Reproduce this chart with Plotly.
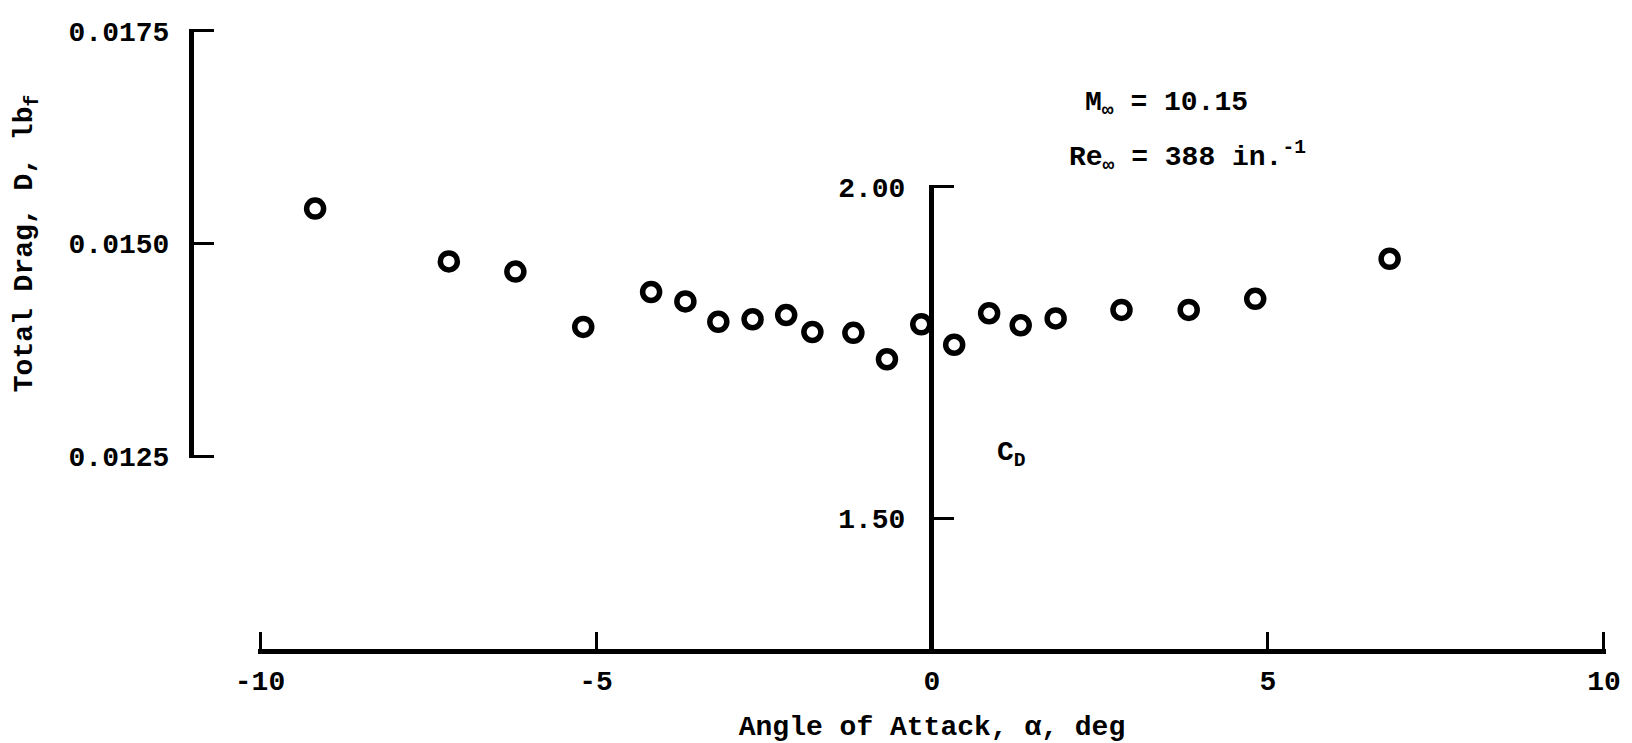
import plotly.graph_objects as go

# ---- data ----
alpha_deg = [-9.18, -7.19, -6.20, -5.19, -4.18, -3.67, -3.18, -2.67, -2.17, -1.78, -1.17,
             -0.67, -0.16, 0.33, 0.85, 1.32, 1.84, 2.82, 3.82, 4.81, 6.81]
total_drag_lbf = [0.01541, 0.01479, 0.01467, 0.01402, 0.01443, 0.01432, 0.01408, 0.01411,
                  0.01416, 0.01396, 0.01395, 0.01364, 0.01405, 0.01381, 0.01418, 0.01404,
                  0.01412, 0.01422, 0.01422, 0.01435, 0.01482]

x_ticks = [-10, -5, 0, 5, 10]
x_ticktext = ["-10", "-5", "0", "5", "10"]
drag_ticks = [0.0125, 0.0150, 0.0175]
drag_ticktext = ["0.0125", "0.0150", "0.0175"]
cd_ticks = [1.50, 2.00]
cd_ticktext = ["1.50", "2.00"]

W, H = 1632, 743
FONT = "Liberation Mono"
FS = 28


def px_x(p):
    return p / W


def px_y(p):
    return (H - p) / H


fig = go.Figure()
fig.add_trace(go.Scatter(
    x=alpha_deg, y=total_drag_lbf, mode="markers",
    marker=dict(symbol="circle-open", size=17, color="black", line=dict(width=5.5, color="black")),
    xaxis="x", yaxis="y", showlegend=False, cliponaxis=False,
))
# empty trace so the C_D axis subplot exists
fig.add_trace(go.Scatter(x=[], y=[], xaxis="x", yaxis="y2", showlegend=False, hoverinfo="skip"))

tickfont = dict(family=FONT, size=FS, color="black", weight="bold")
textfont = dict(family=FONT, size=FS, color="black", weight="bold")

fig.update_layout(
    width=W, height=H,
    margin=dict(l=0, r=0, t=0, b=0, pad=0),
    paper_bgcolor="white", plot_bgcolor="rgba(0,0,0,0)",
    xaxis=dict(
        domain=[px_x(250), px_x(1598)], range=[-10.03, 10.03],
        anchor="free", position=px_y(643),
        showline=True, linewidth=5, linecolor="black",
        ticks="inside", ticklen=17, tickwidth=3, tickcolor="black",
        tickvals=x_ticks, ticktext=x_ticktext, tickfont=tickfont,
        ticklabelstandoff=2,
        showgrid=False, zeroline=False, automargin=False,
        title=dict(text="Angle of Attack, α, deg", standoff=18, font=textfont),
    ),
    yaxis=dict(
        domain=[px_y(450), px_y(21)], range=[0.01248, 0.01752],
        anchor="free", position=px_x(183),
        showline=True, linewidth=5, linecolor="black",
        ticks="inside", ticklen=20, tickwidth=3, tickcolor="black",
        tickvals=drag_ticks, ticktext=drag_ticktext, tickfont=tickfont,
        ticklabelstandoff=14,
        showgrid=False, zeroline=False, automargin=False,
        title=dict(text="Total Drag, D, lb<sub>f</sub>", standoff=26, font=textfont),
    ),
    yaxis2=dict(
        domain=[px_y(643), px_y(177)], range=[1.2991, 2.003],
        anchor="free", position=px_x(923),
        showline=True, linewidth=5, linecolor="black",
        ticks="inside", ticklen=20, tickwidth=3, tickcolor="black",
        tickvals=cd_ticks, ticktext=cd_ticktext, tickfont=tickfont,
        ticklabelstandoff=18,
        showgrid=False, zeroline=False, automargin=False,
    ),
    annotations=[
        dict(text="M<sub>∞</sub> = 10.15", x=px_x(1158), y=px_y(97), xref="paper", yref="paper",
             xanchor="center", yanchor="middle", showarrow=False, font=textfont),
        dict(text="Re<sub>∞</sub> = 388 in.<sup>-1</sup>", x=px_x(1179), y=px_y(149), xref="paper",
             yref="paper", xanchor="center", yanchor="middle", showarrow=False, font=textfont),
        dict(text="C<sub>D</sub>", x=px_x(1003), y=px_y(446), xref="paper", yref="paper",
             xanchor="center", yanchor="middle", showarrow=False, font=textfont),
    ],
)

fig.write_html("out.html")
